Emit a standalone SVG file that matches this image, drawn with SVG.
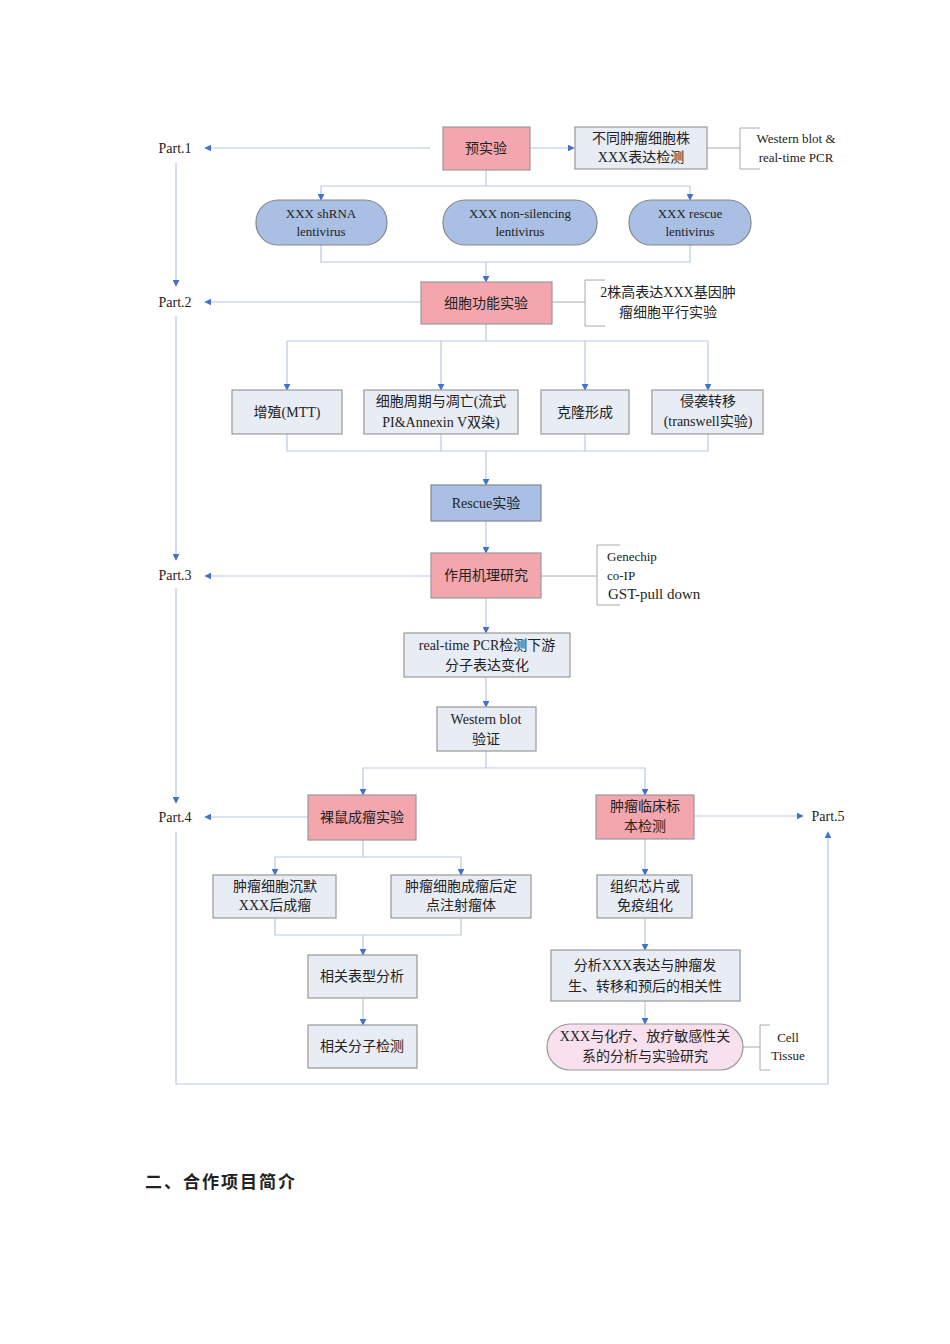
<svg xmlns="http://www.w3.org/2000/svg" width="950" height="1344" viewBox="0 0 950 1344">
<style>
text{font-family:"Liberation Serif","Noto Sans CJK SC",serif;font-size:14px;fill:#222;text-anchor:middle}
.p{fill:#f4a6ae;stroke:#999;stroke-width:1.2}
.b{fill:#e8ecf5;stroke:#999;stroke-width:1.2}
.e{fill:#a9bfe3;stroke:#888;stroke-width:1.2}
.k{fill:#f8e0ef;stroke:#999;stroke-width:1.2}
.c{fill:none;stroke:#b7c8e6;stroke-width:1.2}
.br{fill:none;stroke:#aaa;stroke-width:1}
.a{marker-end:url(#ar)}
.l{text-anchor:start}
</style>
<defs><marker id="ar" viewBox="0 0 10 10" refX="9" refY="5" markerWidth="7" markerHeight="7" orient="auto" markerUnits="userSpaceOnUse"><path d="M0,0L10,5L0,10z" fill="#4472c4"/></marker></defs>
<rect width="950" height="1344" fill="#fff"/>
<g id="connectors">
<path class="c a" d="M430,148H205"/>
<path class="c a" d="M530,148H574"/>
<path class="c" d="M486,170V186M321,186H690"/>
<path class="c a" d="M321,186V200"/><path class="c a" d="M690,186V200"/>
<path class="c" d="M321,245V262H690V245"/>
<path class="c a" d="M486,262V282"/>
<path class="c a" d="M421,302H205"/>
<path class="c" d="M486,324V341M287,341H708"/>
<path class="c a" d="M287,341V390"/><path class="c a" d="M441,341V390"/><path class="c a" d="M585,341V390"/><path class="c a" d="M708,341V390"/>
<path class="c" d="M287,434V451H708V434M441,434V451M585,434V451"/>
<path class="c a" d="M486,451V485"/>
<path class="c a" d="M486,521V553"/>
<path class="c a" d="M431,576H205"/>
<path class="c a" d="M486,598V633"/>
<path class="c a" d="M486,677V707"/>
<path class="c" d="M486,751V768M363,768H645"/>
<path class="c a" d="M363,768V795"/><path class="c a" d="M645,768V795"/>
<path class="c a" d="M308,817H205"/>
<path class="c a" d="M694,816H803"/>
<path class="c" d="M363,840V857M275,857H461"/>
<path class="c a" d="M275,857V875"/><path class="c a" d="M461,857V875"/>
<path class="c" d="M275,918V935H461V918"/>
<path class="c a" d="M363,935V955"/>
<path class="c a" d="M363,998V1025"/>
<path class="c a" d="M645,839V875"/>
<path class="c a" d="M645,918V950"/>
<path class="c a" d="M645,1001V1024"/>
<path class="c a" d="M176,163V286"/>
<path class="c a" d="M176,316V560"/>
<path class="c a" d="M176,588V803"/>
<path class="c a" d="M176,832V1084H828V832"/>
<path class="br" d="M707,148H740M760,128H740V169H760"/>
<path class="br" d="M552,302H585M605,280H585V326H605"/>
<path class="br" d="M541,576H597M620,545H597V605H620"/>
<path class="br" d="M743,1047H760M770,1025H760V1070H770"/>
</g>
<g id="part1"><text x="175" y="153">Part.1</text></g>
<g id="part2"><text x="175" y="307">Part.2</text></g>
<g id="part3"><text x="175" y="580">Part.3</text></g>
<g id="part4"><text x="175" y="822">Part.4</text></g>
<g id="part5"><text x="828" y="821">Part.5</text></g>
<g id="n1"><rect class="p" x="443" y="127" width="87" height="43"/><text x="486" y="153">预实验</text></g>
<g id="n2"><rect class="b" x="575" y="127" width="132" height="42"/><text x="641" y="143">不同肿瘤细胞株</text><text x="641" y="162">XXX表达检测</text></g>
<g id="n2note"><text x="796" y="143" style="font-size:13px">Western blot &amp;</text><text x="796" y="162" style="font-size:13px">real-time PCR</text></g>
<g id="e1"><rect class="e" x="256" y="200" width="131" height="45" rx="22"/><text x="321" y="218" style="font-size:13px">XXX shRNA</text><text x="321" y="236" style="font-size:13px">lentivirus</text></g>
<g id="e2"><rect class="e" x="443" y="200" width="154" height="45" rx="22"/><text x="520" y="218" style="font-size:13px">XXX non-silencing</text><text x="520" y="236" style="font-size:13px">lentivirus</text></g>
<g id="e3"><rect class="e" x="629" y="200" width="122" height="45" rx="22"/><text x="690" y="218" style="font-size:13px">XXX rescue</text><text x="690" y="236" style="font-size:13px">lentivirus</text></g>
<g id="n3"><rect class="p" x="421" y="282" width="131" height="42"/><text x="486" y="308">细胞功能实验</text></g>
<g id="n3note"><text x="668" y="297">2株高表达XXX基因肿</text><text x="668" y="317">瘤细胞平行实验</text></g>
<g id="n4"><rect class="b" x="232" y="390" width="110" height="44"/><text x="287" y="417">增殖(MTT)</text></g>
<g id="n5"><rect class="b" x="364" y="390" width="154" height="44"/><text x="441" y="406">细胞周期与凋亡(流式</text><text x="441" y="427">PI&amp;Annexin V双染)</text></g>
<g id="n6"><rect class="b" x="541" y="390" width="88" height="44"/><text x="585" y="417">克隆形成</text></g>
<g id="n7"><rect class="b" x="652" y="390" width="111" height="44"/><text x="708" y="406">侵袭转移</text><text x="708" y="426">(transwell实验)</text></g>
<g id="n8"><rect class="e" x="431" y="485" width="110" height="36"/><text x="486" y="508">Rescue实验</text></g>
<g id="n9"><rect class="p" x="431" y="553" width="110" height="45"/><text x="486" y="580">作用机理研究</text></g>
<g id="n9note"><text class="l" x="607" y="561" style="font-size:13px">Genechip</text><text class="l" x="607" y="580" style="font-size:13px">co-IP</text><text class="l" x="608" y="599" style="font-size:15px">GST-pull down</text></g>
<g id="n10"><rect class="b" x="404" y="633" width="166" height="44"/><text x="487" y="650">real-time PCR检测下游</text><text x="487" y="670">分子表达变化</text></g>
<g id="n11"><rect class="b" x="437" y="707" width="99" height="44"/><text x="486" y="724">Western blot</text><text x="486" y="744">验证</text></g>
<g id="n12"><rect class="p" x="308" y="795" width="108" height="45"/><text x="362" y="822">裸鼠成瘤实验</text></g>
<g id="n13"><rect class="p" x="596" y="795" width="98" height="44"/><text x="645" y="811">肿瘤临床标</text><text x="645" y="831">本检测</text></g>
<g id="n14"><rect class="b" x="213" y="875" width="123" height="43"/><text x="275" y="891">肿瘤细胞沉默</text><text x="275" y="910">XXX后成瘤</text></g>
<g id="n15"><rect class="b" x="391" y="875" width="140" height="43"/><text x="461" y="891">肿瘤细胞成瘤后定</text><text x="461" y="910">点注射瘤体</text></g>
<g id="n16"><rect class="b" x="308" y="955" width="109" height="43"/><text x="362" y="981">相关表型分析</text></g>
<g id="n17"><rect class="b" x="308" y="1025" width="109" height="43"/><text x="362" y="1051">相关分子检测</text></g>
<g id="n18"><rect class="b" x="597" y="875" width="95" height="43"/><text x="645" y="891">组织芯片或</text><text x="645" y="910">免疫组化</text></g>
<g id="n19"><rect class="b" x="551" y="950" width="189" height="51"/><text x="645" y="970">分析XXX表达与肿瘤发</text><text x="645" y="991">生、转移和预后的相关性</text></g>
<g id="n20"><rect class="k" x="547" y="1024" width="196" height="46" rx="23"/><text x="645" y="1041">XXX与化疗、放疗敏感性关</text><text x="645" y="1061">系的分析与实验研究</text></g>
<g id="n20note"><text x="788" y="1042" style="font-size:13px">Cell</text><text x="788" y="1060" style="font-size:13px">Tissue</text></g>
<text class="l" x="145" y="1188" style="font-size:17px;font-weight:bold;font-family:'Noto Sans CJK SC',sans-serif;letter-spacing:2px">二、合作项目简介</text>
</svg>
